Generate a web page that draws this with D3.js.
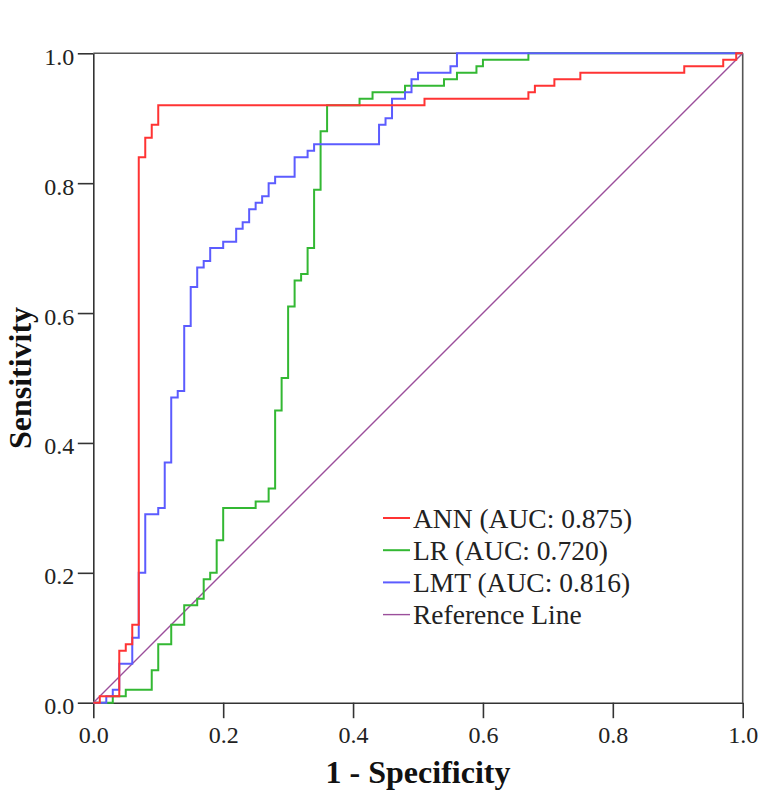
<!DOCTYPE html>
<html lang="en">
<head>
    <meta charset="UTF-8">
    <title>ROC Curves</title>
    <script src="https://d3js.org/d3.v7.min.js"></script>
    <style>
        body {
            margin: 0;
            padding: 0;
            background: white;
            font-family: 'Liberation Serif', 'Times New Roman', serif;
        }
        .axis text {
            font-family: 'Liberation Serif', 'Times New Roman', serif;
            font-size: 24px;
            fill: #222;
        }
        .axis path, .axis line {
            stroke: #333;
            stroke-width: 1.6;
        }
        .axis-title {
            font-family: 'Liberation Serif', 'Times New Roman', serif;
            font-weight: bold;
            font-size: 32px;
            fill: #111;
        }
        .legend text {
            font-family: 'Liberation Serif', 'Times New Roman', serif;
            font-size: 27.5px;
            fill: #222;
        }
    </style>
</head>
<body>
    <div id="chart"></div>

    <script>
        // ROC corner points (1 - specificity, sensitivity), drawn as steps
        const annFpr = [0, 0.01, 0.04, 0.05, 0.06, 0.07, 0.08, 0.09, 0.10, 0.51, 0.67, 0.68, 0.71, 0.75, 0.91, 0.97, 0.99, 1];
        const annTpr = [0, 0.01, 0.08, 0.09, 0.12, 0.84, 0.87, 0.89, 0.92, 0.93, 0.94, 0.95, 0.96, 0.97, 0.98, 0.99, 1, 1];

        const lrFpr = [0, 0.03, 0.05, 0.09, 0.10, 0.12, 0.14, 0.16, 0.17, 0.18, 0.19, 0.20, 0.25, 0.27, 0.28, 0.29, 0.30, 0.31, 0.32, 0.33, 0.34, 0.35, 0.36, 0.41, 0.43, 0.48, 0.54, 0.56, 0.59, 0.60, 0.67, 1];
        const lrTpr = [0, 0.01, 0.02, 0.05, 0.09, 0.12, 0.15, 0.16, 0.19, 0.20, 0.25, 0.30, 0.31, 0.33, 0.45, 0.50, 0.61, 0.65, 0.66, 0.70, 0.79, 0.88, 0.92, 0.93, 0.94, 0.95, 0.96, 0.97, 0.98, 0.99, 1, 1];

        const lmtFpr = [0, 0.02, 0.03, 0.04, 0.06, 0.07, 0.08, 0.10, 0.11, 0.12, 0.13, 0.14, 0.15, 0.16, 0.17, 0.18, 0.20, 0.22, 0.23, 0.24, 0.25, 0.26, 0.27, 0.28, 0.31, 0.33, 0.34, 0.44, 0.45, 0.46, 0.48, 0.49, 0.50, 0.55, 0.56, 1];
        const lmtTpr = [0, 0.01, 0.02, 0.06, 0.10, 0.20, 0.29, 0.30, 0.37, 0.47, 0.48, 0.58, 0.64, 0.67, 0.68, 0.70, 0.71, 0.73, 0.74, 0.76, 0.77, 0.78, 0.80, 0.81, 0.84, 0.85, 0.86, 0.89, 0.90, 0.93, 0.94, 0.96, 0.97, 0.98, 1, 1];

        const refFpr = [0, 1];
        const refTpr = [0, 1];

        const seriesNames = ["ANN (AUC: 0.875)", "LR (AUC: 0.720)", "LMT (AUC: 0.816)", "Reference Line"];
        const seriesColors = ["#ff3333", "#33b833", "#5c5cff", "#9b4f9b"];
        const tickValues = [0, 0.2, 0.4, 0.6, 0.8, 1.0];

        const width = 768, height = 809;
        const margin = { top: 53.3, left: 93.3, right: 25.3, bottom: 106.3 };
        const w = width - margin.left - margin.right;
        const h = height - margin.top - margin.bottom;

        const svg = d3.select("#chart")
            .append("svg")
            .attr("width", width)
            .attr("height", height);

        const g = svg.append("g")
            .attr("transform", `translate(${margin.left},${margin.top})`);

        const x = d3.scaleLinear().domain([0, 1]).range([0, w]);
        const y = d3.scaleLinear().domain([0, 1]).range([h, 0]);

        // frame (top and right)
        g.append("line")
            .attr("x1", 0).attr("x2", w).attr("y1", 0).attr("y2", 0)
            .attr("stroke", "#555").attr("stroke-width", 1.6);
        g.append("line")
            .attr("x1", w).attr("x2", w).attr("y1", 0).attr("y2", h)
            .attr("stroke", "#555").attr("stroke-width", 1.6);

        const xAxis = g.append("g")
            .attr("class", "axis")
            .attr("transform", `translate(0,${h})`)
            .call(d3.axisBottom(x).tickValues(tickValues).tickFormat(d3.format(".1f"))
                .tickSize(15.5).tickSizeOuter(0).tickPadding(7.5));

        const yAxis = g.append("g")
            .attr("class", "axis")
            .call(d3.axisLeft(y).tickValues(tickValues).tickFormat(d3.format(".1f"))
                .tickSize(15.5).tickSizeOuter(0).tickPadding(3.5));
        yAxis.selectAll("text").attr("dy", "0.46em");

        const series = [
            { fpr: refFpr, tpr: refTpr, step: false },
            { fpr: lrFpr, tpr: lrTpr, step: true },
            { fpr: lmtFpr, tpr: lmtTpr, step: true },
            { fpr: annFpr, tpr: annTpr, step: true }
        ];
        const colorIdx = [3, 1, 2, 0];

        series.forEach((s, i) => {
            const pts = s.fpr.map((v, j) => [v, s.tpr[j]]);
            const line = d3.line()
                .x(d => x(d[0]))
                .y(d => y(d[1]))
                .curve(s.step ? d3.curveStepAfter : d3.curveLinear);
            g.append("path")
                .datum(pts)
                .attr("fill", "none")
                .attr("stroke", seriesColors[colorIdx[i]])
                .attr("stroke-width", s.step ? 2 : 1.4)
                .attr("d", line);
        });

        // axis titles
        svg.append("text")
            .attr("class", "axis-title")
            .attr("x", margin.left + w / 2)
            .attr("y", 783)
            .attr("text-anchor", "middle")
            .text("1 - Specificity");

        svg.append("text")
            .attr("class", "axis-title")
            .attr("transform", `translate(31,${margin.top + h / 2}) rotate(-90)`)
            .attr("text-anchor", "middle")
            .text("Sensitivity");

        // legend
        const legend = svg.append("g")
            .attr("class", "legend")
            .attr("transform", "translate(383,518)");

        seriesNames.forEach((name, i) => {
            const row = legend.append("g")
                .attr("transform", `translate(0,${i * 32.2})`);
            row.append("line")
                .attr("x1", 0).attr("x2", 27)
                .attr("y1", 0).attr("y2", 0)
                .attr("stroke", seriesColors[i])
                .attr("stroke-width", i === 3 ? 1.4 : 2);
            row.append("text")
                .attr("x", 30)
                .attr("y", 9.5)
                .text(name);
        });
    </script>
</body>
</html>
